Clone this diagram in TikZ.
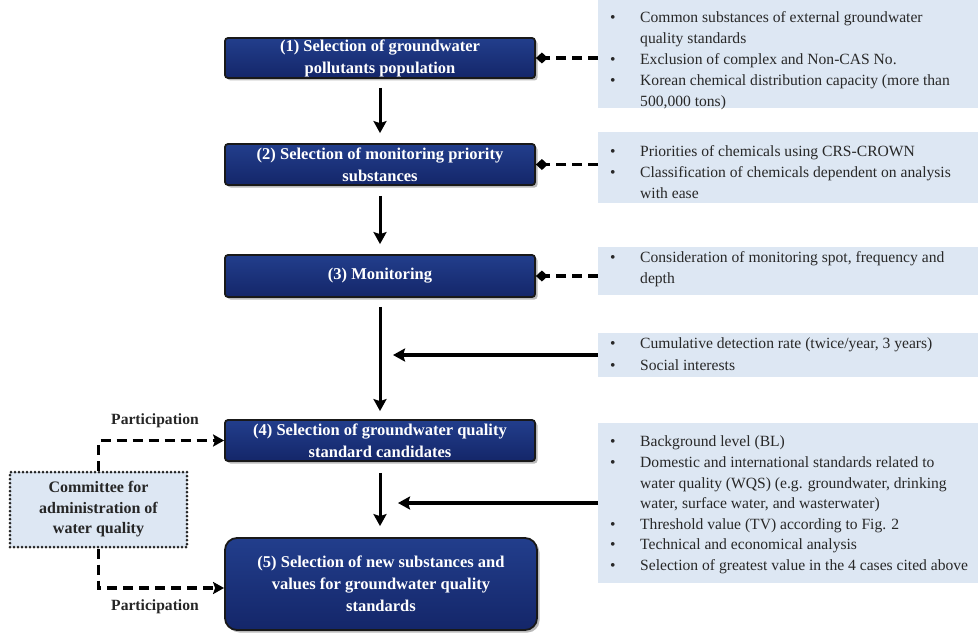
\documentclass[tikz,border=0pt]{standalone}
\usepackage{fontspec}
\setmainfont{Liberation Serif}
\usetikzlibrary{arrows.meta,shadows}
\definecolor{navybot}{RGB}{20,38,105}
\definecolor{navytop}{RGB}{34,62,140}
\definecolor{panelblue}{RGB}{221,231,243}
\definecolor{paneltext}{RGB}{40,40,40}
\newcommand\bul{\makebox[30pt][l]{\textbullet}}
\newcommand\hang{\hspace*{30pt}}
\begin{document}
\begin{tikzpicture}[x=1pt,y=-1pt,
  stepbox/.style={draw=black!90, line width=1.8pt, rounded corners=3pt,
    top color=navytop, bottom color=navybot, text=white,
    font=\fontsize{16.5}{22}\selectfont\bfseries, align=center, inner sep=0pt,
    drop shadow={shadow xshift=2.5pt, shadow yshift=-2.5pt, opacity=0.55}},
  panelbox/.style={fill=panelblue, draw=none, inner sep=0pt, outer sep=0pt, anchor=north west, minimum width=380pt},
  paneltxt/.style={anchor=north west, inner sep=0pt, align=left, text=paneltext, font=\fontsize{15.6}{21}\selectfont},
  dashlink/.style={line width=3.4pt, dash pattern=on 10pt off 6pt, -{Diamond[length=12pt,width=11pt]}},
  flow/.style={line width=3pt, -{Stealth[length=12pt,width=13pt,inset=2pt]}},
  partlink/.style={line width=3.4pt, dash pattern=on 10pt off 6pt, -{Stealth[length=11pt,width=12pt,inset=2pt]}},
  plabel/.style={font=\fontsize{15.6}{17}\selectfont\bfseries, text=black!85, inner sep=0pt}
]
\useasboundingbox (0,0) rectangle (978,634);

% right-hand panels
\node[panelbox, minimum height=108pt] (p1) at (598,0) {};
\node[panelbox, minimum height=71pt] (p2) at (598,132) {};
\node[panelbox, minimum height=48pt] (p3) at (598,247) {};
\node[panelbox, minimum height=44pt] (p4) at (598,333) {};
\node[panelbox, minimum height=160pt] (p5) at (598,423) {};

\node[paneltxt] (t1) at (610,7.3) {\strut\bul Common substances of external groundwater\\
\hang quality standards\\
\bul Exclusion of complex and Non-CAS No.\\
\bul Korean chemical distribution capacity (more than\\
\hang 500,000 tons)};
\node[paneltxt] (t2) at (610,141.3) {\strut\bul Priorities of chemicals using CRS-CROWN\\
\bul Classification of chemicals dependent on analysis\\
\hang with ease};
\node[paneltxt] (t3) at (610,247.3) {\strut\bul Consideration of monitoring spot, frequency and\\
\hang depth};
\node[paneltxt, font=\fontsize{15.6}{22}\selectfont] (t4) at (610,333.3) {\strut\bul Cumulative detection rate (twice/year, 3 years)\\
\bul Social interests};
\node[paneltxt, font=\fontsize{15.6}{20.6}\selectfont] (t5) at (610,432.3) {\strut\bul Background level (BL)\\
\bul Domestic and international standards related to\\
\hang water quality (WQS) (e.g. groundwater, drinking\\
\hang water, surface water, and wasterwater)\\
\bul Threshold value (TV) according to Fig. 2\\
\bul Technical and economical analysis\\
\bul Selection of greatest value in the 4 cases cited above};

% main steps
\node[stepbox, minimum width=310pt, minimum height=40pt] (b1) at (380,58) {(1) Selection of groundwater\\pollutants population};
\node[stepbox, minimum width=310pt, minimum height=41pt] (b2) at (380,164.5) {(2) Selection of monitoring priority\\substances};
\node[stepbox, minimum width=310pt, minimum height=42pt] (b3) at (380,276) {(3) Monitoring};
\node[stepbox, minimum width=310pt, minimum height=41pt] (b4) at (380,440.5) {(4) Selection of groundwater quality\\standard candidates};
\node[stepbox, minimum width=312pt, minimum height=92pt, rounded corners=12pt] (b5) at (381,584) {(5) Selection of new substances and\\values for groundwater quality\\standards};

% committee
\node[draw=black!85, fill=panelblue, line width=3pt, dash pattern=on 0pt off 4pt, line cap=round,
  minimum width=177pt, minimum height=75pt, align=center, inner sep=0pt,
  font=\fontsize{16}{20.5}\selectfont\bfseries, text=black!85] (c) at (98.5,509.5)
  {Committee for\\administration of\\water quality};

% vertical flow arrows
\draw[flow, shorten <=9pt, shorten >=10pt] (b1.south) -- (b2.north);
\draw[flow, shorten <=10pt, shorten >=10pt] (b2.south) -- (b3.north);
\draw[flow, shorten <=9pt, shorten >=8pt] (b3.south) -- (b4.north);
\draw[flow, shorten <=11pt, shorten >=11pt] (b4.south) -- ([xshift=-1pt]b5.north);

% dashed links from panels
\draw[dashlink] (p1.west |- b1.east) -- (b1.east);
\draw[dashlink] (p2.west |- b2.east) -- (b2.east);
\draw[dashlink] (p3.west |- b3.east) -- (b3.east);

% solid arrows into flow
\coordinate (j4) at (393,355);
\coordinate (j5) at (398,503);
\draw[flow, line width=3.4pt] (p4.west) -- (j4 |- p4.west);
\draw[flow, line width=3.4pt] (p5.west) -- (j5 |- p5.west);

% participation links
\draw[partlink] (c.north) |- (b4.west);
\draw[partlink] (c.south) |- ([yshift=-4pt]b5.west);
\node[plabel] (l1) at (155,421) {Participation};
\node[plabel] (l2) at (155,607) {Participation};
\end{tikzpicture}
\end{document}
